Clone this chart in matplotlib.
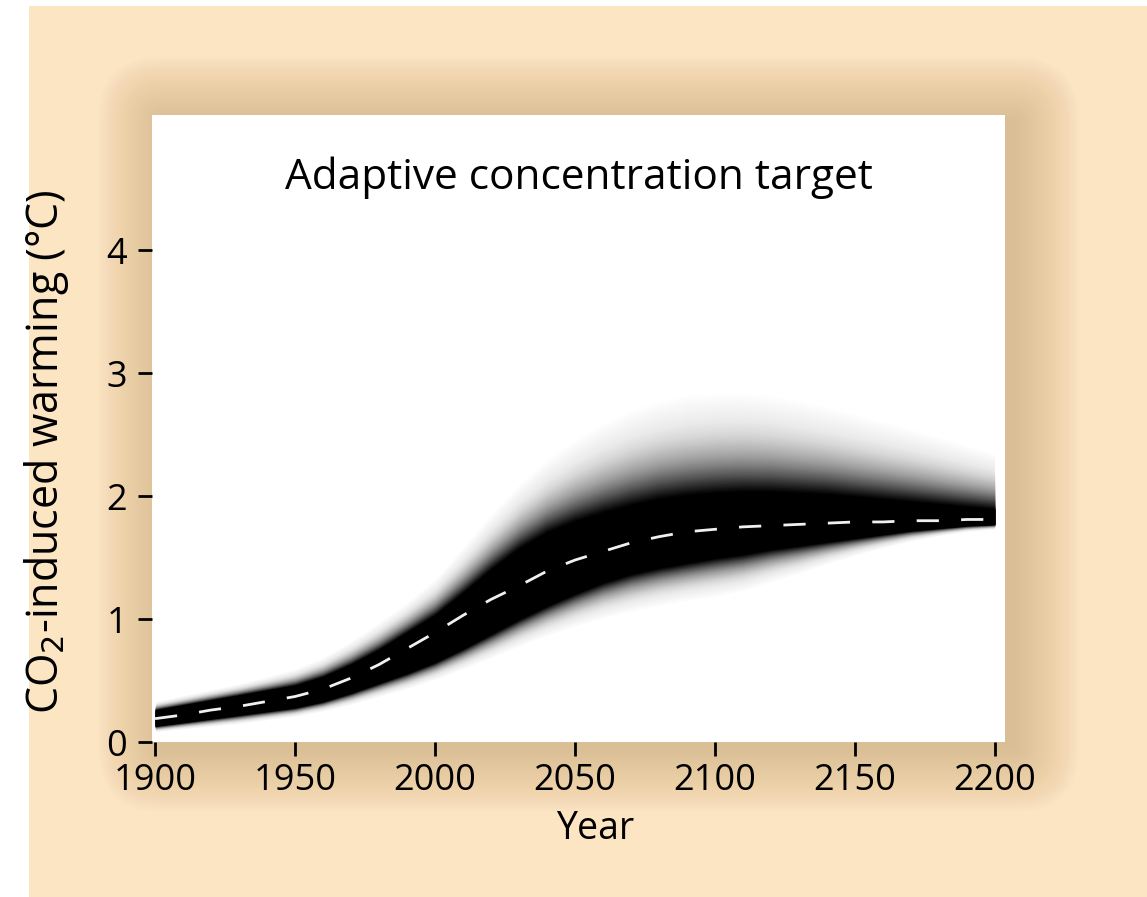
import numpy as np
import matplotlib
matplotlib.use("Agg")
from matplotlib import pyplot as plt
from matplotlib.patches import Rectangle, FancyBboxPatch

plt.rcParams['font.family'] = ['Open Sans', 'DejaVu Sans']

years = np.arange(1900, 2201, 10)

# median warming (white dashed line)
median = [0.19, 0.22, 0.26, 0.29, 0.33, 0.37, 0.43, 0.52, 0.63, 0.76,
          0.89, 1.03, 1.16, 1.27, 1.39, 1.48, 1.55, 1.62, 1.67, 1.71,
          1.73, 1.75, 1.76, 1.77, 1.78, 1.79, 1.79, 1.80, 1.80, 1.81, 1.81]

# solid black core of the distribution
core_low = [0.13, 0.16, 0.19, 0.22, 0.25, 0.28, 0.33, 0.40, 0.48, 0.56,
            0.65, 0.76, 0.88, 1.00, 1.11, 1.21, 1.30, 1.37, 1.42, 1.46,
            1.50, 1.53, 1.57, 1.60, 1.63, 1.66, 1.69, 1.72, 1.74, 1.76, 1.77]
core_high = [0.26, 0.30, 0.34, 0.38, 0.42, 0.46, 0.53, 0.63, 0.75, 0.89,
             1.03, 1.21, 1.40, 1.57, 1.70, 1.79, 1.86, 1.92, 1.97, 2.00,
             2.02, 2.03, 2.03, 2.02, 2.01, 1.99, 1.97, 1.95, 1.93, 1.91, 1.89]

# where the grey fades out to white
fade_low = [0.07, 0.09, 0.11, 0.13, 0.16, 0.19, 0.23, 0.28, 0.34, 0.40,
            0.47, 0.55, 0.63, 0.72, 0.80, 0.87, 0.93, 0.98, 1.03, 1.07,
            1.10, 1.15, 1.23, 1.31, 1.40, 1.48, 1.55, 1.61, 1.66, 1.70, 1.72]
fade_high = [0.35, 0.40, 0.45, 0.50, 0.56, 0.63, 0.73, 0.87, 1.03, 1.20,
             1.40, 1.68, 1.97, 2.23, 2.45, 2.63, 2.78, 2.90, 2.98, 3.03,
             3.05, 3.05, 3.02, 2.97, 2.91, 2.84, 2.77, 2.70, 2.62, 2.54, 2.46]

xticks = [1900, 1950, 2000, 2050, 2100, 2150, 2200]
yticks = [0, 1, 2, 3, 4]

W, H = 1147, 897
fig = plt.figure(figsize=(W / 100, H / 100), dpi=100)
fig.patch.set_facecolor('white')

# beige page
fig.patches.append(Rectangle((29 / W, 0), 1 - 29 / W, (H - 6) / H,
                             transform=fig.transFigure, facecolor='#fce5c3',
                             edgecolor='none', zorder=-10))

# panel in pixels (left, top, right, bottom from top-left)
pl, pt, pr, pb = 152, 115, 1005, 742

# soft shadow round the panel
for k in range(32):
    g = 2.0 * k + 2
    fig.patches.append(FancyBboxPatch(((pl + 10) / W, (H - pb - 6) / H),
                                      (pr - pl) / W, (pb - pt) / H,
                                      boxstyle=f"round,pad={g / W},rounding_size={g / W}",
                                      transform=fig.transFigure, facecolor='#7a5a2a',
                                      edgecolor='none', alpha=0.007, zorder=-5,
                                      mutation_aspect=W / H))

ax = fig.add_axes([pl / W, (H - pb) / H, (pr - pl) / W, (pb - pt) / H])
ax.set_facecolor('white')

y_med = np.array(median)
cl, ch = np.array(core_low), np.array(core_high)
fl, fh = np.array(fade_low), np.array(fade_high)

# grey fade: outer layers first, alpha chosen so the stack follows a long-tailed shape
n_layers = 90
ts = np.linspace(1, 0, n_layers + 1)
prof = lambda t: np.exp(-(t / 0.28) ** 1.15)
opac = (prof(ts) - prof(1)) / (1 - prof(1))
for k in range(1, n_layers + 1):
    a = 1 - (1 - opac[k]) / (1 - opac[k - 1]) if opac[k - 1] < 1 else 1
    t = ts[k - 1]
    ax.fill_between(years, cl - (cl - fl) * t, ch + (fh - ch) * t,
                    color='black', alpha=min(max(a, 0), 1), linewidth=0)
ax.fill_between(years, cl, ch, color='black', linewidth=0)

ax.plot(years, y_med, color='#f0f0f0', lw=2, dashes=(8, 8))

ax.set_xlim(1898.9, 2203.6)
ax.set_ylim(0, 5.1)
ax.set_xticks(xticks)
ax.set_yticks(yticks)
for s in ax.spines.values():
    s.set_visible(False)
ax.tick_params(direction='out', length=10, width=2, labelsize=26, pad=5)
ax.tick_params(axis='y', pad=8)

ax.text(0.5, 0.9, 'Adaptive concentration target', transform=ax.transAxes,
        ha='center', va='center', fontsize=30.5)
ax.set_xlabel('Year', fontsize=27)
ax.xaxis.set_label_coords(0.52, -0.108)
ax.set_ylabel('CO$_2$-induced warming (°C)', fontsize=31)
ax.yaxis.set_label_coords(-0.095, 0.4625)

fig.savefig('out.png', dpi=100, facecolor=fig.get_facecolor())
